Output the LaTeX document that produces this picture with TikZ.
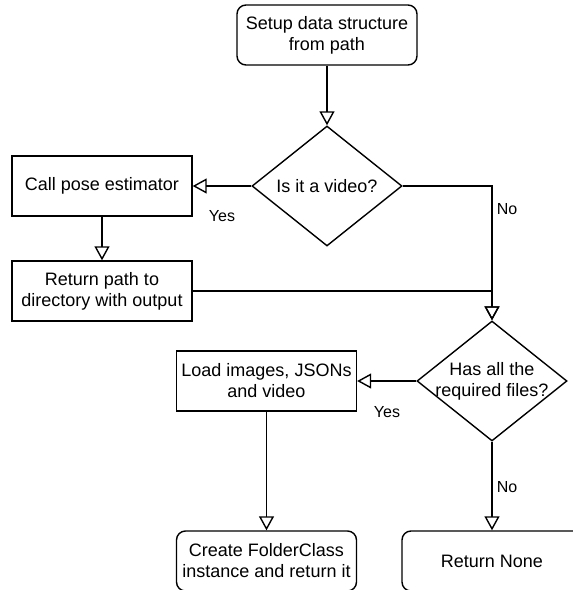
\documentclass[tikz,border=0pt]{standalone}
\usepackage{fontspec}
\setmainfont{Liberation Sans}
\usetikzlibrary{shapes.geometric,arrows.meta}

\tikzset{
  box/.style={draw, line width=1.4pt, minimum width=180pt, minimum height=60pt,
    inner sep=0pt, align=center, font=\fontsize{18}{21}\selectfont},
  terminal/.style={box, rounded corners=9pt},
  decision/.style={diamond, draw, line width=1.4pt, minimum width=150pt,
    minimum height=120pt, inner sep=0pt},
  dtext/.style={align=center, font=\fontsize{18}{21}\selectfont},
  lbl/.style={font=\fontsize{16}{19}\selectfont},
  flow/.style={line width=1.4pt, -{Triangle[open, length=14pt, width=15pt, line width=1.4pt]}}
}

\begin{document}
\begin{tikzpicture}[x=1pt, y=-1pt]
  \useasboundingbox (0,0) rectangle (573,590);
  \clip (0,0) rectangle (573,590);

  \node[terminal] (setup) at (327,35) {Setup data structure\\from path};
  \node[decision, label={[dtext]center:Is it a video?}] (vid) at (327,186) {};
  \node[box] (call) at (102,186) {Call pose estimator};
  \node[box] (ret) at (102,291) {Return path to\\directory with output};
  \node[decision, label={[dtext]center:Has all the\\required files?}] (has) at (492,381) {};
  \node[box] (load) at (266.5,381) {Load images, JSONs\\and video};
  \node[terminal] (create) at (266.5,561) {Create FolderClass\\instance and return it};
  \node[terminal] (none) at (492,561) {Return None};

  \draw[flow] (setup) -- (vid);
  \draw[flow] (vid) -- (call);
  \draw[flow] (call) -- (ret);
  \draw[flow] (vid.east) -| (has.north);
  \draw[flow] (ret.east) -| (has.north);
  \draw[flow] (has) -- (load);
  \draw[flow] (load) -- (create);
  \draw[flow] (has) -- (none);

  \node[lbl] (yes1) at (222,216) {Yes};
  \node[lbl] (no1) at (507,209) {No};
  \node[lbl] (yes2) at (387,412) {Yes};
  \node[lbl] (no2) at (507,487) {No};
\end{tikzpicture}
\end{document}
